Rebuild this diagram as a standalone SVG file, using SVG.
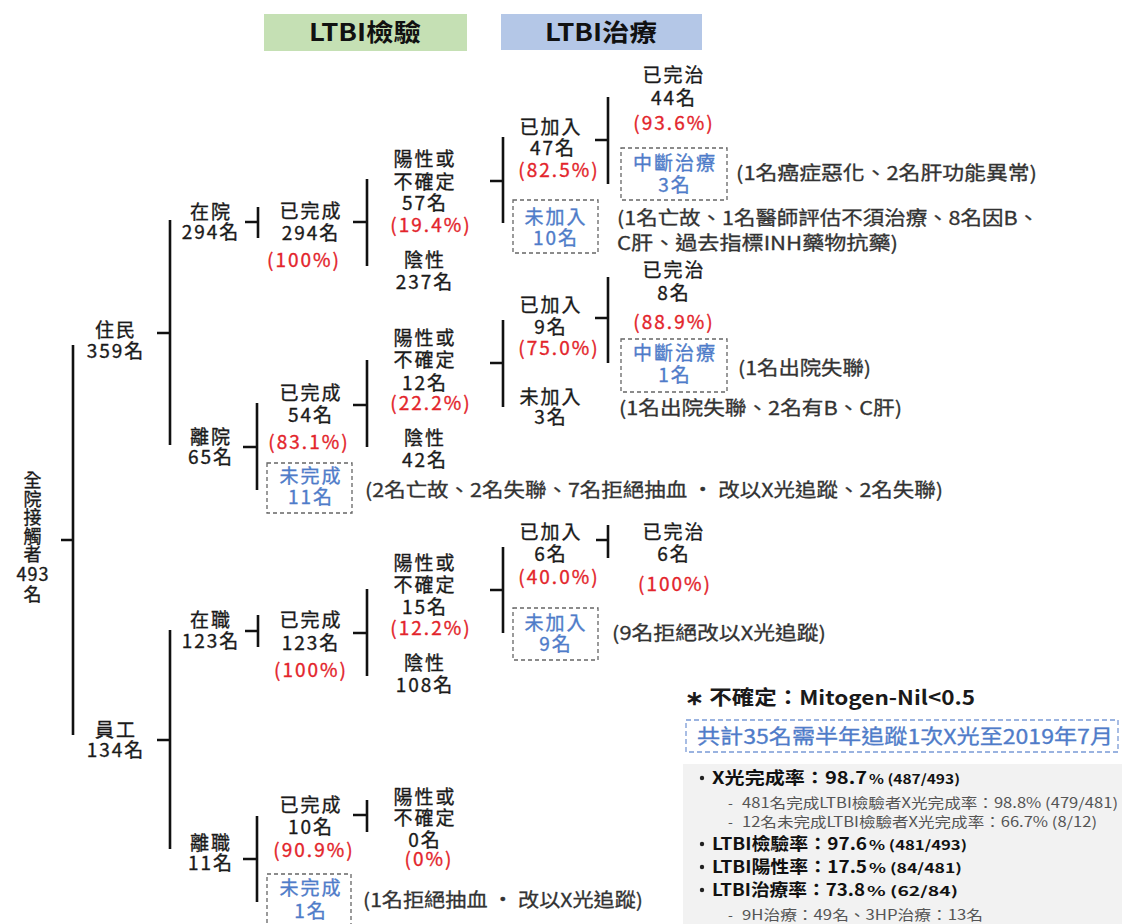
<svg xmlns="http://www.w3.org/2000/svg" width="1122" height="924" viewBox="0 0 1122 924">
<style>
text{font-family:"Noto Sans CJK TC","Noto Sans",sans-serif;}
.n{font-size:19px;fill:#1a1a1a;stroke:#1a1a1a;stroke-width:0.35px;text-anchor:middle;letter-spacing:2px}
.r{fill:#e3242b;stroke:#e3242b}
.b{fill:#4f7cc9;stroke:#4f7cc9}
.note{font-size:19px;fill:#333;stroke:#333;stroke-width:0.3px}
.ln{stroke:#111;stroke-width:2.6;fill:none}
.box{fill:none;stroke:#666;stroke-width:1.3;stroke-dasharray:4 3}
.hd{font-size:24px;font-weight:bold;text-anchor:middle;fill:#111}
.bm{font-size:17px;font-weight:bold;fill:#111}
.bt{font-size:13px;font-weight:bold;fill:#111}
.sub{font-size:14px;fill:#555}
</style>
<rect width="1122" height="924" fill="#fff"/>
<g id="header-test">
<rect x="264" y="14" width="203" height="37" fill="#c5e0b4"/>
<text class="hd" x="365" y="41" textLength="112" lengthAdjust="spacingAndGlyphs">LTBI檢驗</text>
</g>
<g id="header-treat">
<rect x="501" y="14" width="201" height="36" fill="#b4c7e7"/>
<text class="hd" x="601" y="41" textLength="112" lengthAdjust="spacingAndGlyphs">LTBI治療</text>
</g>
<g id="connectors">
<path class="ln" d="M61 540H73M73 345V735"/>
<path class="ln" d="M157 333H170M170 220V445"/>
<path class="ln" d="M157 740H170M170 630V849"/>
<path class="ln" d="M245 222H258M258 207V238"/>
<path class="ln" d="M243 447H257M257 403V490"/>
<path class="ln" d="M245 631H258M258 615V647"/>
<path class="ln" d="M243 859H257M257 816V902"/>
<path class="ln" d="M353 222H367M367 179V266"/>
<path class="ln" d="M353 405H367M367 360V447"/>
<path class="ln" d="M353 633H367M367 589V676"/>
<path class="ln" d="M353 815H367M367 800V832"/>
<path class="ln" d="M490 181H503M503 137V223"/>
<path class="ln" d="M490 363H503M503 320V407"/>
<path class="ln" d="M490 590H503M503 547V633"/>
<path class="ln" d="M595 140H608M608 97V184"/>
<path class="ln" d="M595 318H608M608 277V363"/>
<path class="ln" d="M596 540H608M608 525V558"/>
</g>
<g id="root">
<text class="n" style="font-size:18px;letter-spacing:1px"><tspan x="33" y="487">全</tspan><tspan x="33" y="506">院</tspan><tspan x="33" y="524">接</tspan><tspan x="33" y="543">觸</tspan><tspan x="33" y="561">者</tspan><tspan x="33" y="581">493</tspan><tspan x="33" y="601">名</tspan></text>
</g>
<g id="resident"><text class="n"><tspan x="116" y="337">住民</tspan><tspan x="116" y="358">359名</tspan></text></g>
<g id="staff"><text class="n"><tspan x="116" y="737">員工</tspan><tspan x="116" y="757">134名</tspan></text></g>
<g id="in-hosp"><text class="n"><tspan x="211" y="219">在院</tspan><tspan x="211" y="239">294名</tspan></text></g>
<g id="left-hosp"><text class="n"><tspan x="211" y="444">離院</tspan><tspan x="211" y="464">65名</tspan></text></g>
<g id="employed"><text class="n"><tspan x="211" y="627">在職</tspan><tspan x="211" y="648">123名</tspan></text></g>
<g id="resigned"><text class="n"><tspan x="211" y="850">離職</tspan><tspan x="211" y="870">11名</tspan></text></g>
<g id="done-294"><text class="n"><tspan x="311" y="218">已完成</tspan><tspan x="311" y="240">294名</tspan><tspan class="r" x="304" y="267">(100%)</tspan></text></g>
<g id="done-54"><text class="n"><tspan x="311" y="400">已完成</tspan><tspan x="311" y="422">54名</tspan><tspan class="r" x="309" y="449">(83.1%)</tspan></text></g>
<g id="undone-11"><rect class="box" x="267" y="463" width="85" height="50"/><text class="n b"><tspan x="311" y="483">未完成</tspan><tspan x="311" y="504">11名</tspan></text></g>
<g id="done-123"><text class="n"><tspan x="311" y="627">已完成</tspan><tspan x="311" y="650">123名</tspan><tspan class="r" x="311" y="677">(100%)</tspan></text></g>
<g id="done-10"><text class="n"><tspan x="311" y="812">已完成</tspan><tspan x="311" y="834">10名</tspan><tspan class="r" x="314" y="857">(90.9%)</tspan></text></g>
<g id="undone-1"><rect class="box" x="267" y="874" width="84" height="56"/><text class="n b"><tspan x="311" y="895">未完成</tspan><tspan x="311" y="918">1名</tspan></text></g>
<g id="pos-57"><text class="n"><tspan x="425" y="166">陽性或</tspan><tspan x="425" y="189">不確定</tspan><tspan x="425" y="210">57名</tspan><tspan class="r" x="431" y="232">(19.4%)</tspan></text></g>
<g id="neg-237"><text class="n"><tspan x="425" y="267">陰性</tspan><tspan x="425" y="289">237名</tspan></text></g>
<g id="pos-12"><text class="n"><tspan x="425" y="345">陽性或</tspan><tspan x="425" y="367">不確定</tspan><tspan x="425" y="390">12名</tspan><tspan class="r" x="431" y="410">(22.2%)</tspan></text></g>
<g id="neg-42"><text class="n"><tspan x="425" y="445">陰性</tspan><tspan x="425" y="467">42名</tspan></text></g>
<g id="pos-15"><text class="n"><tspan x="425" y="570">陽性或</tspan><tspan x="425" y="592">不確定</tspan><tspan x="425" y="614">15名</tspan><tspan class="r" x="431" y="635">(12.2%)</tspan></text></g>
<g id="neg-108"><text class="n"><tspan x="425" y="670">陰性</tspan><tspan x="425" y="692">108名</tspan></text></g>
<g id="pos-0"><text class="n"><tspan x="425" y="804">陽性或</tspan><tspan x="425" y="825">不確定</tspan><tspan x="425" y="847">0名</tspan><tspan class="r" x="429" y="866">(0%)</tspan></text></g>
<g id="join-47"><text class="n"><tspan x="551" y="134">已加入</tspan><tspan x="553" y="155">47名</tspan><tspan class="r" x="559" y="177">(82.5%)</tspan></text></g>
<g id="nojoin-10"><rect class="box" x="513" y="200" width="85" height="53"/><text class="n b"><tspan x="556" y="224">未加入</tspan><tspan x="556" y="245">10名</tspan></text></g>
<g id="join-9"><text class="n"><tspan x="551" y="312">已加入</tspan><tspan x="551" y="334">9名</tspan><tspan class="r" x="559" y="355">(75.0%)</tspan></text></g>
<g id="nojoin-3"><text class="n"><tspan x="551" y="404">未加入</tspan><tspan x="551" y="424">3名</tspan></text></g>
<g id="join-6"><text class="n"><tspan x="551" y="539">已加入</tspan><tspan x="551" y="561">6名</tspan><tspan class="r" x="559" y="584">(40.0%)</tspan></text></g>
<g id="nojoin-9"><rect class="box" x="513" y="608" width="85" height="52"/><text class="n b"><tspan x="556" y="630">未加入</tspan><tspan x="556" y="651">9名</tspan></text></g>
<g id="cured-44"><text class="n"><tspan x="674" y="82">已完治</tspan><tspan x="674" y="105">44名</tspan><tspan class="r" x="674" y="130">(93.6%)</tspan></text></g>
<g id="stop-3"><rect class="box" x="621" y="148" width="106" height="52"/><text class="n b"><tspan x="675" y="170">中斷治療</tspan><tspan x="675" y="192">3名</tspan></text></g>
<g id="cured-8"><text class="n"><tspan x="674" y="277">已完治</tspan><tspan x="674" y="300">8名</tspan><tspan class="r" x="674" y="329">(88.9%)</tspan></text></g>
<g id="stop-1"><rect class="box" x="621" y="339" width="106" height="53"/><text class="n b"><tspan x="675" y="360">中斷治療</tspan><tspan x="675" y="382">1名</tspan></text></g>
<g id="cured-6"><text class="n"><tspan x="674" y="539">已完治</tspan><tspan x="674" y="561">6名</tspan><tspan class="r" x="675" y="591">(100%)</tspan></text></g>
<g id="notes">
<text class="note" x="736" y="180" textLength="301" lengthAdjust="spacingAndGlyphs">(1名癌症惡化、2名肝功能異常)</text>
<text class="note"><tspan x="617" y="225" textLength="422" lengthAdjust="spacingAndGlyphs">(1名亡故、1名醫師評估不須治療、8名因B、</tspan><tspan x="617" y="250" textLength="281" lengthAdjust="spacingAndGlyphs">C肝、過去指標INH藥物抗藥)</tspan></text>
<text class="note" x="738" y="375" textLength="133" lengthAdjust="spacingAndGlyphs">(1名出院失聯)</text>
<text class="note" x="619" y="415" textLength="283" lengthAdjust="spacingAndGlyphs">(1名出院失聯、2名有B、C肝)</text>
<text class="note" x="365" y="497" textLength="578" lengthAdjust="spacingAndGlyphs">(2名亡故、2名失聯、7名拒絕抽血 · 改以X光追蹤、2名失聯)</text>
<text class="note" x="612" y="640" textLength="214" lengthAdjust="spacingAndGlyphs">(9名拒絕改以X光追蹤)</text>
<text class="note" x="363" y="907" textLength="280" lengthAdjust="spacingAndGlyphs">(1名拒絕抽血 · 改以X光追蹤)</text>
</g>
<g id="legend">
<text x="685" y="705" font-size="20" font-weight="bold" fill="#1a1a1a" textLength="290" lengthAdjust="spacingAndGlyphs">∗ 不確定：Mitogen-Nil&lt;0.5</text>
<rect x="686" y="720" width="432" height="32" fill="none" stroke="#7a9ad6" stroke-width="1.3" stroke-dasharray="5 3"/>
<text x="697" y="744" font-size="20" fill="#4f7cc9" stroke="#4f7cc9" stroke-width="0.3" textLength="416" lengthAdjust="spacingAndGlyphs">共計35名需半年追蹤1次X光至2019年7月</text>
</g>
<g id="stats">
<rect x="683" y="764" width="439" height="160" fill="#f2f2f2"/>
<circle cx="702" cy="778" r="2.2" fill="#222"/>
<text class="bm" x="712" y="784" textLength="155" lengthAdjust="spacingAndGlyphs">X光完成率：98.7</text>
<text class="bt" x="869" y="784" textLength="91" lengthAdjust="spacingAndGlyphs">% (487/493)</text>
<text class="sub" x="728" y="808">-</text>
<text class="sub" x="742" y="808" textLength="376" lengthAdjust="spacingAndGlyphs">481名完成LTBI檢驗者X光完成率：98.8% (479/481)</text>
<text class="sub" x="728" y="827">-</text>
<text class="sub" x="742" y="827" textLength="355" lengthAdjust="spacingAndGlyphs">12名未完成LTBI檢驗者X光完成率：66.7% (8/12)</text>
<circle cx="702" cy="844" r="2.2" fill="#222"/>
<text class="bm" x="712" y="850" textLength="155" lengthAdjust="spacingAndGlyphs">LTBI檢驗率：97.6</text>
<text class="bt" x="869" y="850" textLength="98" lengthAdjust="spacingAndGlyphs">% (481/493)</text>
<circle cx="702" cy="867" r="2.2" fill="#222"/>
<text class="bm" x="712" y="873" textLength="155" lengthAdjust="spacingAndGlyphs">LTBI陽性率：17.5</text>
<text class="bt" x="869" y="873" textLength="93" lengthAdjust="spacingAndGlyphs">% (84/481)</text>
<circle cx="702" cy="890" r="2.2" fill="#222"/>
<text class="bm" x="712" y="896" textLength="153" lengthAdjust="spacingAndGlyphs">LTBI治療率：73.8</text>
<text class="bt" x="867" y="896" textLength="91" lengthAdjust="spacingAndGlyphs">% (62/84)</text>
<text class="sub" x="728" y="920">-</text>
<text class="sub" x="742" y="920" textLength="241" lengthAdjust="spacingAndGlyphs">9H治療：49名、3HP治療：13名</text>
</g>
</svg>
